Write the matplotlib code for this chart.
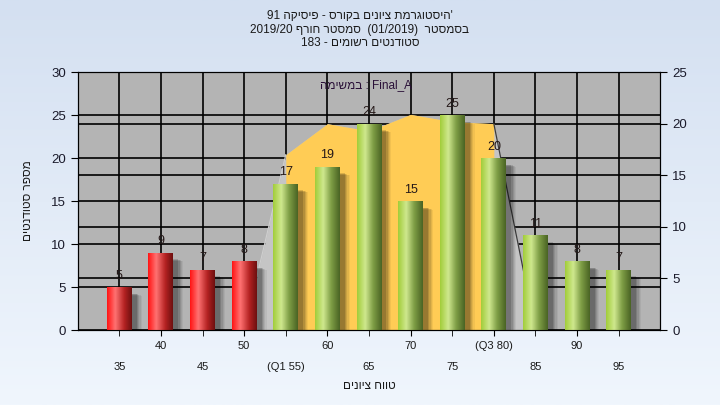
import re
import numpy as np
import matplotlib
matplotlib.use("Agg")
import matplotlib.pyplot as plt
from matplotlib.colors import LinearSegmentedColormap
from matplotlib.transforms import blended_transform_factory

plt.rcParams["font.family"] = ["Liberation Sans", "DejaVu Sans"]

# --- data ------------------------------------------------------------------
grades = [35, 40, 45, 50, 55, 60, 65, 70, 75, 80, 85, 90, 95]
tick_labels = ["35", "40", "45", "50", "(Q1 55)", "60", "65", "70", "75",
               "(Q3 80)", "85", "90", "95"]
counts = [5, 9, 7, 8, 17, 19, 24, 15, 25, 20, 11, 8, 7]
failed = [True, True, True, True] + [False] * 9

# area on the right axis, spans 50..85 (Q1..Q3 filled yellow)
area_grades = [50, 55, 60, 65, 70, 75, 80, 85]
area_values = [0, 17, 20, 19.3, 20.9, 20.2, 20, 0]

title_lines = ["'היסטוגרמת ציונים בקורס - פיסיקה 91",
               "בסמסטר  (01/2019)  סמסטר חורף 2019/20",
               "סטודנטים רשומים - 183"]
inner_title = "Final_A : במשימה"
xlabel = "טווח ציונים"
ylabel = "מספר סטודנטים"


def visual(s):
    """Logical RTL string -> left-to-right glyph order for matplotlib."""
    r = s[::-1]
    r = re.sub(r"[A-Za-z0-9_/.]+", lambda m: m.group(0)[::-1], r)
    return r.translate(str.maketrans("()", ")("))


RED_CMAP = LinearSegmentedColormap.from_list(
    "red", [(0, "#ff1414"), (0.33, "#ff7272"), (0.7, "#b42222"), (1, "#6e1010")])
GREEN_CMAP = LinearSegmentedColormap.from_list(
    "green", [(0, "#a2cd3a"), (0.33, "#cfe88e"), (0.65, "#7f9e46"), (1, "#4a6424")])

fig = plt.figure(figsize=(7.2, 4.05), dpi=100)

bg = fig.add_axes([0, 0, 1, 1], zorder=-10)
bg.imshow(np.linspace(0, 1, 200).reshape(-1, 1), aspect="auto", extent=[0, 1, 0, 1],
          cmap=LinearSegmentedColormap.from_list("bg", ["#d4e0f1", "#f0f6fd"]))
bg.axis("off")

ax = fig.add_axes([0.108, 0.185, 0.809, 0.637])
ax2 = ax.twinx()
ax.set_zorder(2)
ax2.set_zorder(1)
ax.patch.set_visible(False)
ax2.patch.set_visible(True)
ax2.patch.set_facecolor("#b4b4b4")

x = np.arange(len(grades))
ax.set_xlim(-1, len(grades))
ax.set_ylim(0, 30)
ax2.set_ylim(0, 25)

# grid lines (both scales) sit under the area
ax2.set_axisbelow(True)
ax2.yaxis.grid(True, color="black", linewidth=1.2)
left_tr = blended_transform_factory(ax2.transAxes, ax.transData)
for yv in range(5, 30, 5):
    ax2.plot([0, 1], [yv, yv], color="black", linewidth=1.2, transform=left_tr, zorder=0.5)
for xv in x:
    ax2.axvline(xv, color="black", linewidth=1.2, zorder=0.5)

# area series on the right axis
ax_pos = [grades.index(g) for g in area_grades]
ax2.fill_between(ax_pos, area_values, color="#c5c5c5", linewidth=0, zorder=1)
ax2.fill_between(ax_pos[1:7], area_values[1:7], color="#ffcc55", linewidth=0, zorder=1.1)
ax2.plot(ax_pos[:2], area_values[:2], color="#cfcfcf", linewidth=0.8, zorder=1.2)
ax2.plot(ax_pos[6:], area_values[6:], color="#3c3c3c", linewidth=0.9, zorder=1.2)

# bars with soft shadow and cylinder shading
width = 0.6
shadow = [(0.24, 0.05), (0.21, 0.07), (0.18, 0.09), (0.15, 0.12), (0.12, 0.15)]
for k, (dx, a) in enumerate(shadow):
    ax.bar(x + dx, np.array(counts) - 0.6 + 0.06 * k, width, bottom=-0.4,
           color="black", alpha=a, linewidth=0, zorder=1)
bars = ax.bar(x, counts, width, color="none", linewidth=0, zorder=2)
grad = np.linspace(0, 1, 64).reshape(1, -1)
for b, is_fail in zip(bars, failed):
    im = ax.imshow(grad, cmap=RED_CMAP if is_fail else GREEN_CMAP, aspect="auto",
                   extent=(b.get_x(), b.get_x() + b.get_width(), 0, b.get_height()),
                   zorder=2)
    im.set_clip_path(b)
for xi, c in zip(x, counts):
    ax.annotate(str(c), (xi, c), xytext=(0, 4), textcoords="offset points",
                ha="center", va="bottom", fontsize=9, color="#241818", zorder=3)
ax.set_xlim(-1, len(grades))
ax.set_ylim(0, 30)

# axes, ticks
ax.set_yticks(range(0, 31, 5))
ax2.set_yticks(range(0, 26, 5))
ax.tick_params(axis="y", direction="out", length=5, labelsize=9.5, labelcolor="#1a1a2a")
ax2.tick_params(axis="y", direction="out", length=5, labelsize=9.5, labelcolor="#1a1a2a")
ax.set_xticks(x[1::2])
ax.set_xticklabels(tick_labels[1::2])
ax.set_xticks(x[0::2], minor=True)
ax.set_xticklabels(tick_labels[0::2], minor=True)
ax.tick_params(axis="x", which="major", direction="out", length=4, pad=4,
               labelsize=8, labelcolor="#1a1a1a")
ax.tick_params(axis="x", which="minor", direction="out", length=4, pad=19,
               labelsize=8, labelcolor="#1a1a1a")
for sp in ax.spines.values():
    sp.set_color("black")

ax.set_xlabel(visual(xlabel), fontsize=8.5, labelpad=6, color="#1a1a1a")
ax.set_ylabel(visual(ylabel), fontsize=8.5, labelpad=12, color="#1a1a1a")

ax.text(0.495, 0.95, visual(inner_title), transform=ax.transAxes, ha="center",
        va="center", fontsize=8.5, color="#2a1038", zorder=4)

for i, line in enumerate(title_lines):
    fig.text(0.5, 1 - (16 + 13.5 * i) / 405, visual(line), ha="center", va="center",
             fontsize=8.5, color="#1a1a1a")

fig.savefig("out.png", dpi=100)
